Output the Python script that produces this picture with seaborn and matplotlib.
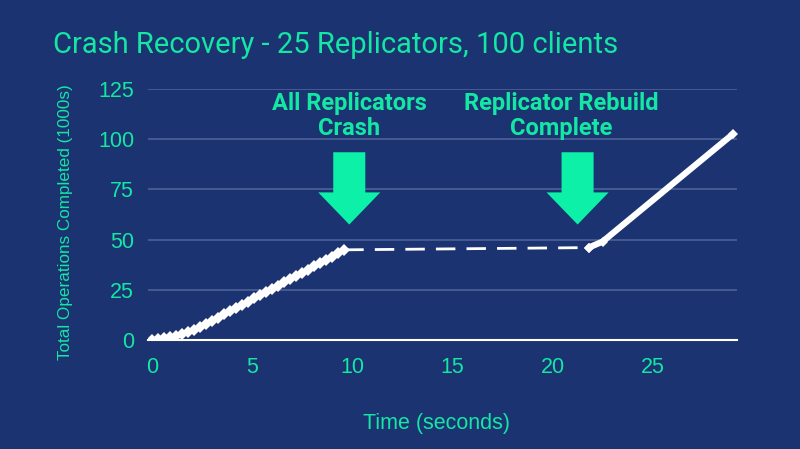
import matplotlib
matplotlib.use("Agg")
import matplotlib.pyplot as plt
import seaborn as sns
import pandas as pd

# Data (time in s, ops in 1000s)
run_time = [0.0, 0.3, 0.6, 0.9, 1.2, 1.5, 1.8, 2.1, 2.4, 2.7, 3.0, 3.3, 3.6, 3.9,
            4.2, 4.5, 4.8, 5.1, 5.4, 5.7, 6.0, 6.3, 6.6, 6.9, 7.2, 7.5, 7.8, 8.1,
            8.4, 8.7, 9.0, 9.3, 9.6]
run_ops = [0.0, 0.3, 0.8, 1.4, 2.2, 3.1, 4.1, 5.2, 6.5, 7.9, 9.5, 11.1, 12.7, 14.3,
           15.9, 17.5, 19.1, 20.7, 22.3, 23.9, 25.5, 27.1, 28.7, 30.3, 31.9, 33.5,
           35.1, 36.7, 38.3, 39.9, 41.5, 43.2, 44.9]
outage_time = [9.6, 21.8]
outage_ops = [44.9, 46.0]
recover_time = [21.8, 22.5, 29.0]
recover_ops = [46.0, 49.0, 102.5]

x_ticks = [0, 5, 10, 15, 20, 25]
y_ticks = [0, 25, 50, 75, 100, 125]

events = ["All Replicators\nCrash", "Replicator Rebuild\nComplete"]
event_text_x = [9.85, 20.45]
event_arrow_x = [9.85, 21.25]

BG = "#1b3370"
GREEN = "#14e6a4"
ARROW = "#0df0a8"

sns.set_theme(style="dark")
plt.rcParams["font.family"] = ["Liberation Sans", "DejaVu Sans"]

fig = plt.figure(figsize=(8, 4.49), dpi=100)
fig.patch.set_facecolor(BG)
ax = fig.add_axes([0.185, 0.2428, 0.736, 0.559])
ax.set_facecolor(BG)

sns.lineplot(x=run_time, y=run_ops, ax=ax, color="white", lw=3,
             marker="D", markersize=6, markeredgewidth=0)
sns.lineplot(x=outage_time, y=outage_ops, ax=ax, color="white", lw=2,
             marker="D", markersize=5, markeredgewidth=0)
ax.lines[-1].set_linestyle((0, (7, 4)))
sns.lineplot(x=recover_time, y=recover_ops, ax=ax, color="white", lw=4.5,
             marker="D", markersize=5, markeredgewidth=0)

ax.set_xlim(-0.2, 29.2)
ax.set_ylim(0, 125)
ax.set_xticks(x_ticks)
ax.set_yticks(y_ticks)
ax.grid(axis="y", color="#4d6196", lw=1.2)
ax.grid(axis="x", visible=False)
ax.set_axisbelow(True)
for side in ["top", "right", "left"]:
    ax.spines[side].set_visible(False)
ax.spines["bottom"].set_color("white")
ax.spines["bottom"].set_linewidth(1.5)
ax.tick_params(axis="both", colors=GREEN, labelsize=15.5, length=0, pad=12)
ax.tick_params(axis="y", pad=10)

ax.set_xlabel("Time (seconds)", color=GREEN, fontsize=15.5)
ax.xaxis.set_label_coords(0.49, -0.29)
ax.set_ylabel("Total Operations Completed (1000s)", color=GREEN, fontsize=12.3)
ax.yaxis.set_label_coords(-0.128, 0.47)

for label, tx, axx in zip(events, event_text_x, event_arrow_x):
    ax.text(tx, 111.5, label, ha="center", va="center", color=GREEN,
            fontsize=17, fontweight="bold", family=["Roboto", "DejaVu Sans"],
            linespacing=1.1)
    ax.arrow(axx, 93.5, 0, -36, width=1.6, head_width=3.1, head_length=16,
             length_includes_head=True, color=ARROW, lw=0)

fig.text(0.066, 0.9, "Crash Recovery - 25 Replicators, 100 clients", color=GREEN,
         fontsize=21, family=["Roboto", "DejaVu Sans"], va="center", ha="left")

fig.savefig("out.png", dpi=100, facecolor=BG)
